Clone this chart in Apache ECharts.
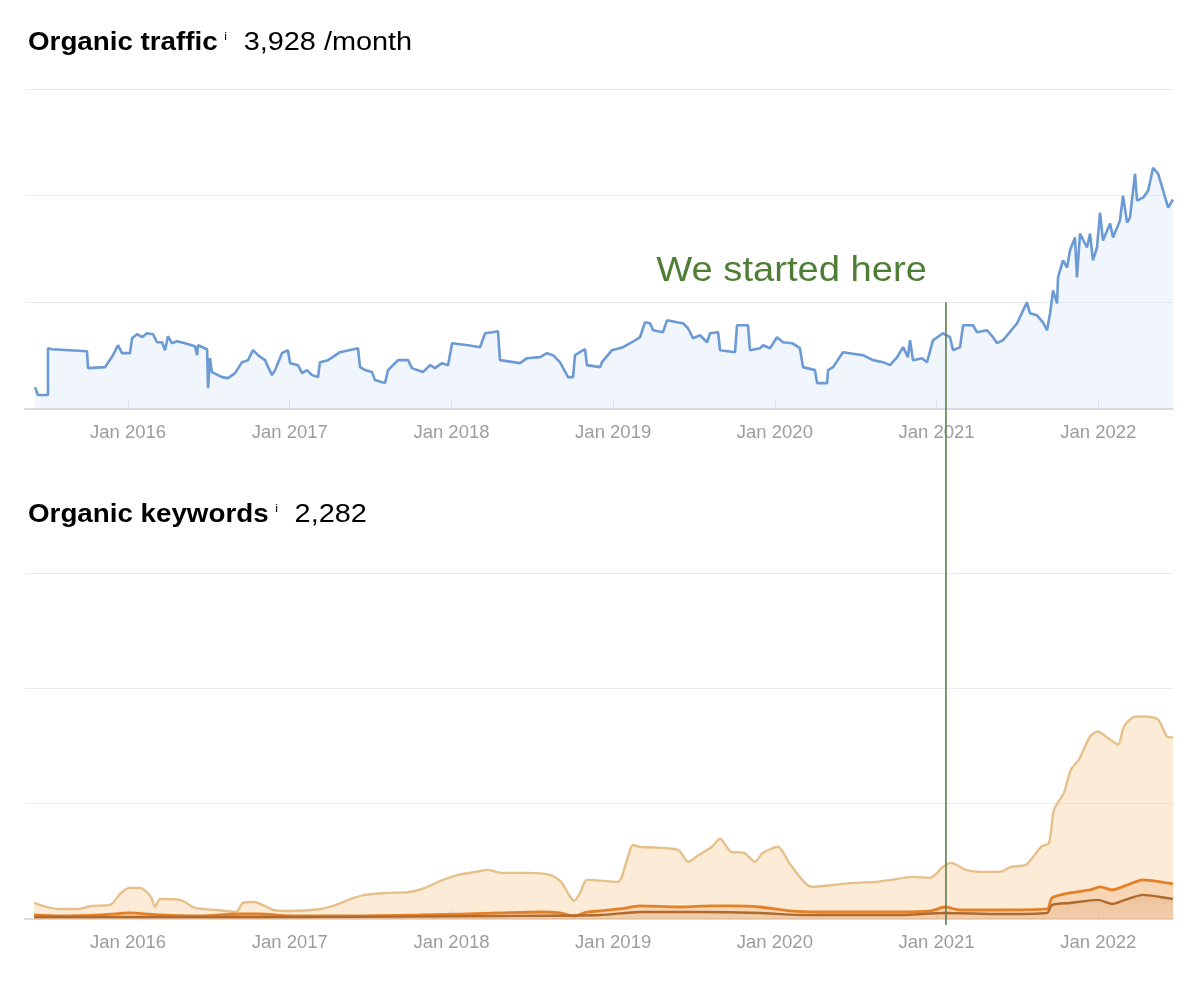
<!DOCTYPE html>
<html><head><meta charset="utf-8">
<script src="https://cdn.jsdelivr.net/npm/echarts@6/dist/echarts.min.js"></script>
<style>html,body{margin:0;padding:0;background:#fff}#c{width:1200px;height:981px}</style>
</head><body><div id="c"></div>
<script>
// ---- tick labels (x axis, decimal years) ----
const tickYears = [2016, 2017, 2018, 2019, 2020, 2021, 2022];
const tickLabels = ['Jan 2016','Jan 2017','Jan 2018','Jan 2019','Jan 2020','Jan 2021','Jan 2022'];

// ---- Organic traffic (visits / month), dates as decimal years ----
const trafficDates = [2015.425,2015.443,2015.505,2015.505,2015.530,2015.746,2015.753,2015.858,2015.907,2015.938,
2015.963,2016.012,2016.025,2016.056,2016.087,2016.117,2016.155,2016.179,2016.210,2016.229,
2016.247,2016.272,2016.303,2016.352,2016.414,2016.427,2016.433,2016.489,2016.495,2016.507,
2016.519,2016.581,2016.618,2016.662,2016.705,2016.742,2016.773,2016.804,2016.847,2016.890,
2016.909,2016.952,2016.989,2017.002,2017.051,2017.076,2017.107,2017.138,2017.175,2017.187,
2017.237,2017.311,2017.422,2017.435,2017.466,2017.509,2017.527,2017.589,2017.608,2017.670,
2017.732,2017.756,2017.824,2017.868,2017.898,2017.942,2017.979,2018.004,2018.103,2018.177,
2018.208,2018.251,2018.288,2018.300,2018.424,2018.467,2018.548,2018.591,2018.628,2018.671,
2018.721,2018.752,2018.764,2018.826,2018.838,2018.919,2018.931,2018.993,2019.061,2019.117,
2019.166,2019.197,2019.228,2019.247,2019.308,2019.333,2019.395,2019.432,2019.463,2019.494,
2019.537,2019.581,2019.599,2019.649,2019.661,2019.754,2019.766,2019.834,2019.846,2019.908,
2019.927,2019.970,2020.013,2020.050,2020.106,2020.155,2020.174,2020.248,2020.261,2020.323,
2020.329,2020.360,2020.421,2020.545,2020.607,2020.669,2020.712,2020.756,2020.793,2020.823,
2020.836,2020.854,2020.910,2020.941,2020.978,2021.040,2021.083,2021.102,2021.145,2021.164,
2021.225,2021.250,2021.312,2021.349,2021.374,2021.411,2021.498,2021.535,2021.559,2021.578,
2021.621,2021.658,2021.683,2021.702,2021.720,2021.745,2021.751,2021.782,2021.807,2021.825,
2021.856,2021.868,2021.887,2021.930,2021.949,2021.967,2021.992,2022.011,2022.029,2022.073,
2022.091,2022.134,2022.153,2022.178,2022.196,2022.227,2022.240,2022.277,2022.308,2022.339,
2022.370,2022.401,2022.432,2022.462];
const trafficValues = [411,262,262,1140,1121,1084,766,785,1009,1196,
1047,1047,1327,1402,1346,1420,1402,1252,1252,1103,
1364,1234,1271,1234,1177,1009,1196,1121,392,953,
692,598,579,673,878,916,1103,1009,916,635,
729,1047,1103,860,822,673,729,635,598,878,
916,1065,1140,785,729,692,542,486,729,916,
916,766,692,822,766,860,822,1234,1196,1159,
1420,1439,1458,916,860,953,972,1047,1009,878,
598,598,1009,1121,822,785,878,1103,1159,1252,
1346,1626,1607,1477,1439,1663,1626,1607,1514,1327,
1383,1252,1420,1439,1103,1065,1570,1570,1103,1140,
1196,1140,1346,1252,1234,1140,785,729,486,486,
729,785,1065,1009,916,878,822,972,1159,972,
1290,916,953,878,1290,1420,1346,1103,1159,1570,
1570,1439,1477,1346,1234,1290,1607,1850,2000,1794,
1757,1626,1477,1794,2224,1981,2467,2785,2654,2972,
3215,2467,3289,3028,3289,2785,3028,3682,3159,3476,
3215,3532,4000,3495,3588,4411,3906,3962,4093,4523,
4411,4093,3775,3928];

// ---- Organic keywords: all positions (total) ----
const kwTotalDates = [2015.419,2015.474,2015.567,2015.685,2015.777,2015.889,2015.957,2016.012,2016.074,2016.142,
2016.167,2016.198,2016.322,2016.414,2016.550,2016.668,2016.711,2016.779,2016.847,2016.897,
2017.008,2017.194,2017.286,2017.379,2017.466,2017.608,2017.744,2017.837,2017.948,2018.041,
2018.152,2018.220,2018.313,2018.474,2018.610,2018.678,2018.727,2018.758,2018.795,2018.838,
2019.030,2019.080,2019.123,2019.160,2019.401,2019.463,2019.531,2019.611,2019.661,2019.729,
2019.809,2019.877,2019.927,2020.020,2020.088,2020.180,2020.230,2020.366,2020.483,2020.626,
2020.718,2020.854,2020.960,2021.040,2021.089,2021.182,2021.275,2021.392,2021.460,2021.553,
2021.646,2021.695,2021.726,2021.788,2021.831,2021.881,2021.949,2021.998,2022.054,2022.122,
2022.159,2022.215,2022.283,2022.369,2022.425,2022.462];
const kwTotal = [202,164,126,126,164,177,328,391,391,277,
151,252,240,139,113,88,202,214,164,113,
101,126,177,252,303,328,340,391,492,555,
593,618,580,580,555,467,303,227,328,492,
467,706,933,908,870,719,807,908,1009,845,
832,719,832,908,706,467,404,429,454,467,
492,530,517,656,706,618,593,593,656,681,
908,958,1374,1589,1879,2005,2295,2358,2282,2194,
2421,2535,2547,2509,2295,2282];

// ---- Organic keywords: top 10 positions ----
const kwTop10Dates = [2015.419,2015.579,2015.827,2016.012,2016.198,2016.445,2016.693,2016.816,2017.002,2017.373,
2017.806,2018.300,2018.548,2018.671,2018.758,2018.838,2018.919,2019.042,2019.166,2019.414,
2019.599,2019.723,2019.908,2020.094,2020.279,2020.774,2020.960,2021.052,2021.145,2021.392,
2021.683,2021.714,2021.825,2021.949,2022.011,2022.085,2022.165,2022.277,2022.382,2022.462];
const kwTop10 = [50,38,50,76,50,38,63,63,38,38,
50,76,88,76,38,88,101,126,164,151,
164,164,151,101,88,88,101,151,113,113,
126,265,328,366,404,366,416,492,467,441];

// ---- Organic keywords: top 3 positions ----
const kwTop3Dates = [2015.419,2015.827,2017.064,2018.300,2018.919,2019.166,2019.537,2019.908,2020.155,2020.774,
2021.052,2021.392,2021.683,2021.714,2021.825,2021.998,2022.085,2022.165,2022.277,2022.382,2022.462];
const kwTop3 = [25,25,25,38,50,88,88,76,50,50,
76,63,76,177,202,240,189,240,303,277,252];

const startedAt = 2021.058;
const trafficHeader = '3,928 /month';
const keywordsHeader = '2,282';

const pairs = (xs, ys) => xs.map((x, i) => [x, ys[i]]);

const chart = echarts.init(document.getElementById('c'), null, {renderer: 'canvas'});
const font = 'Liberation Sans, Arial, sans-serif';

const xAxisBase = (gi) => ({
  type: 'value', gridIndex: gi, min: 2015.363, max: 2022.462,
  axisLine: {show: true, lineStyle: {color: '#dcdcdc', width: 2}},
  axisTick: {show: true, inside: true, length: 10, customValues: tickYears, lineStyle: {color: '#e6e6e6'}},
  axisLabel: {customValues: tickYears, formatter: v => tickLabels[tickYears.indexOf(Math.round(v))] || '',
    color: '#9d9d9d', fontSize: 18.5, fontFamily: font, margin: 14},
  splitLine: {show: false}
});
const yAxisBase = (gi, max, interval) => ({
  type: 'value', gridIndex: gi, min: 0, max: max, interval: interval,
  axisLine: {show: false}, axisTick: {show: false}, axisLabel: {show: false},
  splitLine: {show: true, lineStyle: {color: '#ececec', width: 1}}
});

chart.setOption({
  animation: false,
  backgroundColor: '#ffffff',
  grid: [
    {left: 25, right: 27, top: 89, bottom: 572},
    {left: 25, right: 27, top: 573, bottom: 62}
  ],
  xAxis: [xAxisBase(0), xAxisBase(1)],
  yAxis: [yAxisBase(0, 6000, 2000), yAxisBase(1, 4350, 1450)],
  series: [
    {
      name: 'Organic traffic', type: 'line', xAxisIndex: 0, yAxisIndex: 0,
      data: pairs(trafficDates, trafficValues), showSymbol: false,
      lineStyle: {color: '#6b9ad4', width: 2.6},
      areaStyle: {color: 'rgba(200,216,245,0.36)'}
    },
    {
      name: 'All positions', type: 'line', xAxisIndex: 1, yAxisIndex: 1,
      data: pairs(kwTotalDates, kwTotal), showSymbol: false, smooth: 0.25,
      lineStyle: {color: '#e6c08a', width: 2.4},
      areaStyle: {color: 'rgba(246,198,140,0.5)'}
    },
    {
      name: 'Top 10', type: 'line', xAxisIndex: 1, yAxisIndex: 1,
      data: pairs(kwTop10Dates, kwTop10), showSymbol: false, smooth: 0.25,
      lineStyle: {color: '#e3812a', width: 2.8},
      areaStyle: {color: 'rgba(238,150,70,0.35)'}
    },
    {
      name: 'Top 3', type: 'line', xAxisIndex: 1, yAxisIndex: 1,
      data: pairs(kwTop3Dates, kwTop3), showSymbol: false, smooth: 0.25,
      lineStyle: {color: '#b06a2e', width: 2.4},
      areaStyle: {color: new echarts.graphic.LinearGradient(0, 0, 0, 1, [
        {offset: 0, color: 'rgba(200,130,80,0.35)'}, {offset: 1, color: 'rgba(215,165,125,0.25)'}])}
    }
  ]
});

const gx = chart.convertToPixel({xAxisIndex: 0}, startedAt);
const gTop = chart.convertToPixel({yAxisIndex: 0}, 2000);
const gBottom = chart.convertToPixel({yAxisIndex: 1}, 0) + 6;
const headerRich = {
  b: {fontSize: 25, fontWeight: 'bold', color: '#333333', fontFamily: font},
  i: {fontSize: 11, color: '#b5b5b5', fontFamily: font, padding: [0, 0, 12, 6]},
  v: {fontSize: 26, color: '#444444', fontFamily: font, padding: [0, 0, 0, 15]}
};
chart.setOption({
  graphic: [
    {type: 'text', x: 28, y: 30, scaleX: 1.11, style: {text: '{b|Organic traffic}{i|i}{v|' + trafficHeader + '}', rich: headerRich}},
    {type: 'text', x: 28, y: 502, scaleX: 1.11, style: {text: '{b|Organic keywords}{i|i}{v|' + keywordsHeader + '}', rich: headerRich}},
    {type: 'line', z: 100, shape: {x1: gx, y1: gTop, x2: gx, y2: gBottom}, style: {stroke: '#5e7f4c', lineWidth: 1.6}},
    {type: 'text', z: 100, x: gx - 19, y: gTop - 31, scaleX: 1.09,
      style: {text: 'We started here', fill: '#4f7d35', fontSize: 35, fontFamily: font, align: 'right', verticalAlign: 'middle'}}
  ]
});
</script>
</body></html>
